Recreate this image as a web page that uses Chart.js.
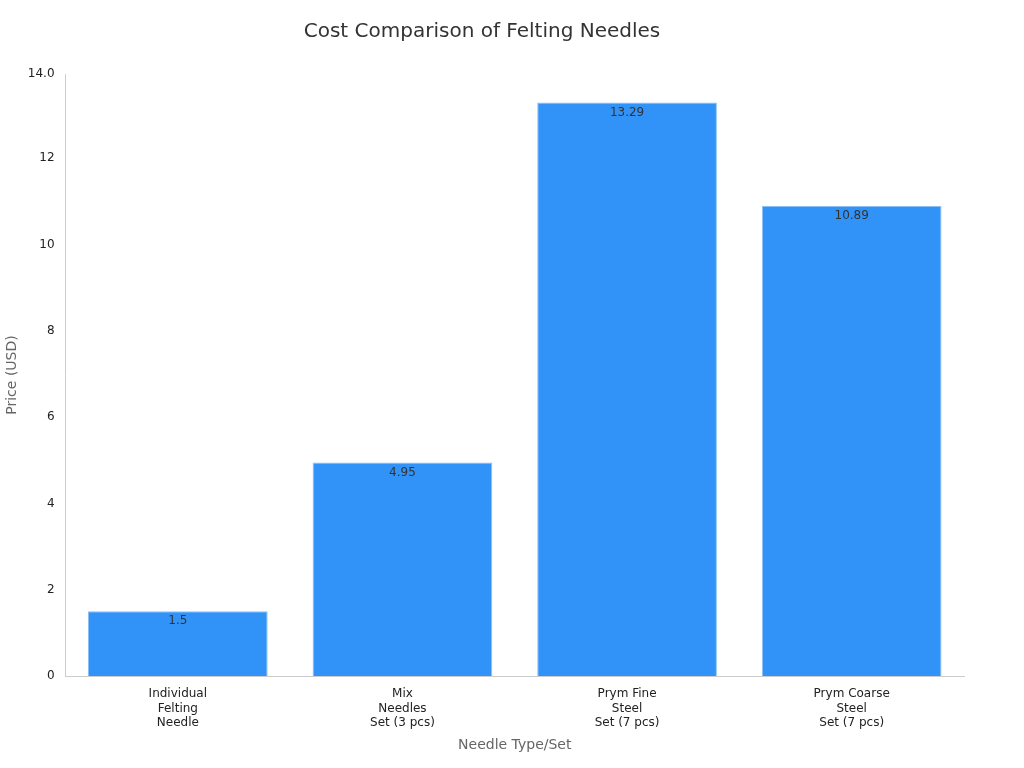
<!DOCTYPE html>
<html>
<head>
<meta charset="utf-8">
<script src="https://cdn.jsdelivr.net/npm/chart.js@4/dist/chart.umd.min.js"></script>
<style>
  body { margin: 0; background: #fff; }
</style>
</head>
<body>
<canvas id="myChart" width="1024" height="768"></canvas>
<script>
// カテゴリと値
const categories = [
    ['Individual', 'Felting', 'Needle'],
    ['Mix', 'Needles', 'Set (3 pcs)'],
    ['Prym Fine', 'Steel', 'Set (7 pcs)'],
    ['Prym Coarse', 'Steel', 'Set (7 pcs)']
];
const prices = [1.5, 4.95, 13.29, 10.89];

// バーの上端に値を表示するプラグイン
const valueLabels = {
    id: 'valueLabels',
    afterDatasetsDraw(chart) {
        const ctx = chart.ctx;
        const meta = chart.getDatasetMeta(0);
        ctx.save();
        ctx.font = '12px "DejaVu Sans", sans-serif';
        ctx.fillStyle = '#333';
        ctx.textAlign = 'center';
        ctx.textBaseline = 'top';
        meta.data.forEach((bar, i) => {
            ctx.fillText(String(prices[i]), bar.x, bar.y + 4);
        });
        ctx.restore();
    }
};

new Chart(document.getElementById('myChart'), {
    type: 'bar',
    data: {
        labels: categories,
        datasets: [{
            data: prices,
            backgroundColor: '#3193f8',
            borderColor: '#8cc0f5',
            borderWidth: 1,
            barPercentage: 0.8,
            categoryPercentage: 1
        }]
    },
    options: {
        responsive: false,
        devicePixelRatio: 1,
        animation: false,
        layout: { padding: { left: 0, right: 60, top: 10, bottom: 10 } },
        plugins: {
            legend: { display: false },
            tooltip: { enabled: false },
            title: {
                display: true,
                text: 'Cost Comparison of Felting Needles',
                color: '#333',
                font: { size: 20, family: '"DejaVu Sans", sans-serif', weight: 'normal' },
                padding: { top: 10, bottom: 30 }
            }
        },
        scales: {
            x: {
                grid: { display: false },
                border: { color: '#ccc' },
                ticks: { color: '#222', font: { size: 12, family: '"DejaVu Sans", sans-serif' } },
                title: {
                    display: true, text: 'Needle Type/Set', color: '#666',
                    font: { size: 14, family: '"DejaVu Sans", sans-serif' }
                }
            },
            y: {
                min: 0,
                max: 13.95,
                grid: { display: false },
                border: { color: '#ccc' },
                ticks: { stepSize: 2, color: '#222', font: { size: 12, family: '"DejaVu Sans", sans-serif' } },
                title: {
                    display: true, text: 'Price (USD)', color: '#666',
                    font: { size: 14, family: '"DejaVu Sans", sans-serif' }
                }
            }
        }
    },
    plugins: [valueLabels]
});
</script>
</body>
</html>
